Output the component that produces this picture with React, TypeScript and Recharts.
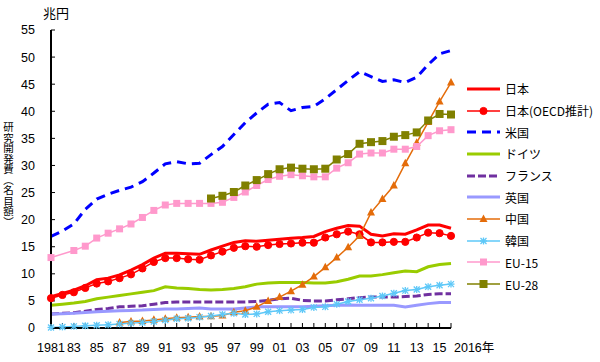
import React from 'react';
import { LineChart, Line, XAxis, YAxis } from 'recharts';

const years = [
  1981, 1982, 1983, 1984, 1985, 1986, 1987, 1988, 1989, 1990,
  1991, 1992, 1993, 1994, 1995, 1996, 1997, 1998, 1999, 2000,
  2001, 2002, 2003, 2004, 2005, 2006, 2007, 2008, 2009, 2010,
  2011, 2012, 2013, 2014, 2015, 2016,
];

const japan = [
  5.8, 6.4, 7.0, 7.8, 8.9, 9.2, 9.8, 10.7, 11.7, 12.9,
  13.8, 13.8, 13.7, 13.6, 14.4, 15.1, 15.8, 16.1, 16.0, 16.2,
  16.4, 16.55, 16.7, 16.9, 17.8, 18.4, 18.9, 18.8, 17.3, 17.0,
  17.4, 17.3, 18.1, 19.0, 19.0, 18.4,
];
const japanOecd = [
  5.5, 6.1, 6.6, 7.4, 8.2, 8.6, 9.2, 9.9, 11.0, 12.2,
  12.9, 12.9, 12.7, 12.6, 13.4, 14.1, 14.8, 15.1, 15.0, 15.3,
  15.5, 15.6, 15.75, 15.75, 16.7, 17.3, 17.8, 17.3, 15.8, 15.8,
  15.9, 15.9, 16.7, 17.6, 17.5, 17.0,
];
const us = [
  16.9, 17.9, 19.2, 21.9, 23.8, 24.7, 25.4, 26.0, 27.0, 28.6,
  30.3, 30.7, 30.3, 30.4, 32.0, 33.5, 35.7, 37.9, 39.7, 41.3,
  41.6, 40.1, 40.7, 40.9, 42.3, 44.0, 45.7, 47.3, 46.4, 45.5,
  45.8, 45.3, 46.3, 48.6, 50.6, 51.2,
];
const germany = [
  4.2, 4.4, 4.6, 4.9, 5.4, 5.7, 6.0, 6.3, 6.6, 6.9,
  7.6, 7.4, 7.3, 7.1, 7.0, 7.1, 7.3, 7.6, 8.1, 8.3,
  8.4, 8.4, 8.4, 8.3, 8.3, 8.55, 9.0, 9.6, 9.6, 9.85,
  10.2, 10.5, 10.4, 11.3, 11.7, 11.9,
];
const france = [
  2.6, 2.7, 2.8, 3.1, 3.4, 3.6, 3.9, 4.0, 4.1, 4.4,
  4.7, 4.8, 4.8, 4.8, 4.8, 4.8, 4.8, 4.8, 4.9, 5.1,
  5.4, 5.5, 5.1, 5.0, 5.0, 5.2, 5.4, 5.6, 5.7, 5.7,
  5.7, 5.8, 5.9, 6.2, 6.3, 6.3,
];
const uk = [
  2.6, 2.65, 2.7, 2.85, 3.0, 3.1, 3.2, 3.25, 3.3, 3.4,
  3.5, 3.5, 3.6, 3.7, 3.5, 3.5, 3.5, 3.7, 3.9, 3.9,
  3.9, 3.9, 3.9, 4.0, 4.1, 4.2, 4.25, 4.2, 4.2, 4.2,
  4.2, 3.9, 4.2, 4.5, 4.7, 4.7,
];
const china = [
  null, null, null, null, null, null, 1.0, 1.2, 1.3, 1.5,
  1.7, 1.9, 2.0, 2.1, 2.15, 2.3, 2.9, 3.2, 3.9, 5.0,
  5.7, 6.8, 8.0, 9.5, 11.2, 13.0, 14.9, 17.0, 21.3, 23.8,
  26.3, 30.4, 34.2, 38.0, 41.8, 45.3,
];
const korea = [
  0.1, 0.2, 0.3, 0.4, 0.5, 0.6, 0.75, 0.9, 1.0, 1.2,
  1.45, 1.7, 1.8, 2.0, 2.2, 2.5, 2.7, 2.5, 2.6, 3.0,
  3.2, 3.3, 3.4, 3.8, 3.9, 4.4, 4.9, 5.2, 5.5, 5.9,
  6.4, 6.9, 7.1, 7.6, 7.9, 8.1,
];
const eu15 = [
  13.0, null, 14.3, 15.1, 16.6, 17.5, 18.3, 19.2, 20.4, 21.7,
  22.7, 23.0, 23.0, 23.0, 23.0, 23.2, 24.1, 25.1, 26.3, 27.4,
  28.0, 28.3, 28.1, 27.9, 27.9, 29.5, 30.5, 32.1, 32.3, 32.3,
  33.0, 33.0, 33.5, 35.5, 36.4, 36.6,
];
const eu28 = [
  null, null, null, null, null, null, null, null, null, null,
  null, null, null, null, 23.9, 24.4, 25.1, 26.3, 27.3, 28.4,
  29.3, 29.6, 29.4, 29.3, 29.4, 31.1, 32.1, 34.0, 34.3, 34.5,
  35.3, 35.6, 36.1, 38.3, 39.5, 39.4,
];

const seriesNames = ['日本', '日本(OECD推計)', '米国', 'ドイツ', 'フランス', '英国', '中国', '韓国', 'EU-15', 'EU-28'];
const yTicks = [0, 5, 10, 15, 20, 25, 30, 35, 40, 45, 50, 55];
const yUnit = '兆円';
const yTitle = '研究開発費（名目額）';
const lastYearLabel = '2016年';

const data = years.map((year, i) => ({
  year,
  japan: japan[i],
  japanOecd: japanOecd[i],
  us: us[i],
  germany: germany[i],
  france: france[i],
  uk: uk[i],
  china: china[i],
  korea: korea[i],
  eu15: eu15[i],
  eu28: eu28[i],
}));

type Marker = 'circle' | 'triangle' | 'star' | 'square' | 'bigsquare' | null;

const styles: { key: string; color: string; width: number; dash?: string; marker: Marker }[] = [
  { key: 'japan', color: '#ff0000', width: 3, marker: null },
  { key: 'japanOecd', color: '#ff0000', width: 1.5, marker: 'circle' },
  { key: 'us', color: '#0000ff', width: 3, dash: '9 6', marker: null },
  { key: 'germany', color: '#99cc00', width: 3, marker: null },
  { key: 'france', color: '#7030a0', width: 3, dash: '8 3', marker: null },
  { key: 'uk', color: '#9999ff', width: 3, marker: null },
  { key: 'china', color: '#e46c0a', width: 1.5, marker: 'triangle' },
  { key: 'korea', color: '#5ec8f8', width: 1.5, marker: 'star' },
  { key: 'eu15', color: '#ff99cc', width: 1.5, marker: 'square' },
  { key: 'eu28', color: '#808000', width: 1.5, marker: 'bigsquare' },
];

const drawMarker = (m: Marker, cx: number, cy: number, color: string, key?: any) => {
  if (m === 'circle') return <circle key={key} cx={cx} cy={cy} r={3.6} fill={color} stroke={color} />;
  if (m === 'triangle')
    return <polygon key={key} points={`${cx},${cy - 4.5} ${cx - 4},${cy + 3} ${cx + 4},${cy + 3}`} fill={color} />;
  if (m === 'star')
    return (
      <g key={key} stroke={color} strokeWidth={1.3}>
        <line x1={cx - 3.5} y1={cy} x2={cx + 3.5} y2={cy} />
        <line x1={cx} y1={cy - 3.5} x2={cx} y2={cy + 3.5} />
        <line x1={cx - 3} y1={cy - 3} x2={cx + 3} y2={cy + 3} />
        <line x1={cx - 3} y1={cy + 3} x2={cx + 3} y2={cy - 3} />
      </g>
    );
  if (m === 'square') return <rect key={key} x={cx - 3.5} y={cy - 3.5} width={7} height={7} fill={color} />;
  if (m === 'bigsquare') return <rect key={key} x={cx - 4} y={cy - 4} width={8} height={8} fill={color} />;
  return null;
};

const makeDot = (m: Marker, color: string) => (props: any) => {
  const { cx, cy, index, value } = props;
  if (cx == null || cy == null || value == null) return <g key={index} />;
  return drawMarker(m, cx, cy, color, index);
};

const XTick = (props: any) => {
  const { x, y, payload } = props;
  const v = payload.value as number;
  let label = '';
  let anchor = 'middle';
  let tx = x;
  if (v === 2016) {
    label = lastYearLabel;
    anchor = 'start';
    tx = x + 3;
  } else if (v === 1981) label = String(v);
  else if (v % 2 === 1) label = String(v).slice(2);
  if (!label) return <g />;
  return (
    <text x={tx} y={y} dy="0.71em" textAnchor={anchor} fontSize={12.5} fill="#000"
      fontFamily="'Liberation Sans', 'Noto Sans CJK JP', sans-serif">
      {label}
    </text>
  );
};

const App = () => {
  return (
    <div style={{ position: 'relative', width: 600, height: 362, background: '#fff' }}>
      <style>{'body{margin:0}'}</style>
      <LineChart width={600} height={362} data={data} margin={{ top: 30, right: 149, bottom: 4, left: 0 }}>
        <XAxis
          dataKey="year"
          type="number"
          domain={[1981, 2016]}
          ticks={years}
          interval={0}
          height={30}
          tickSize={-5}
          tickMargin={20}
          tick={<XTick />}
          axisLine={{ stroke: '#000', strokeWidth: 2 }}
          tickLine={{ stroke: '#000', strokeWidth: 1 }}
        />
        <YAxis
          type="number"
          domain={[0, 55]}
          ticks={yTicks}
          interval={0}
          width={51}
          tickSize={-4}
          tickMargin={20}
          tick={{ fill: '#000', fontSize: 12.5, fontFamily: "'Liberation Sans', sans-serif" }}
          axisLine={{ stroke: '#000', strokeWidth: 2 }}
          tickLine={{ stroke: '#000', strokeWidth: 1 }}
        />
        {styles.map((s) => (
          <Line
            key={s.key}
            dataKey={s.key}
            type="linear"
            stroke={s.color}
            strokeWidth={s.width}
            strokeDasharray={s.dash}
            dot={s.marker ? makeDot(s.marker, s.color) : false}
            activeDot={false}
            connectNulls
            isAnimationActive={false}
          />
        ))}
      </LineChart>
      <div style={{ position: 'absolute', left: 43, top: 3, fontSize: 13, fontFamily: "'Noto Sans CJK JP', sans-serif", color: '#000' }}>
        {yUnit}
      </div>
      <div
        style={{
          position: 'absolute',
          left: 2,
          top: 122,
          writingMode: 'vertical-rl',
          fontSize: 10.5,
          lineHeight: '13px',
          fontFamily: "'Noto Sans CJK JP', sans-serif",
          color: '#000',
          whiteSpace: 'nowrap',
        }}
      >
        {yTitle}
      </div>
      <div style={{ position: 'absolute', left: 467, top: 78, fontFamily: "'Noto Sans CJK JP', 'Liberation Sans', sans-serif", fontSize: 12 }}>
        {styles.map((s, i) => (
          <div key={s.key} style={{ display: 'flex', alignItems: 'center', height: 21.7 }}>
            <svg width={34} height={12} style={{ flex: 'none' }}>
              <line x1={0} y1={6} x2={33} y2={6} stroke={s.color} strokeWidth={s.width} strokeDasharray={s.dash} />
              {drawMarker(s.marker, 16.5, 6, s.color)}
            </svg>
            <span style={{ marginLeft: 4, whiteSpace: 'nowrap', color: '#000' }}>{seriesNames[i]}</span>
          </div>
        ))}
      </div>
    </div>
  );
};

export default App;
